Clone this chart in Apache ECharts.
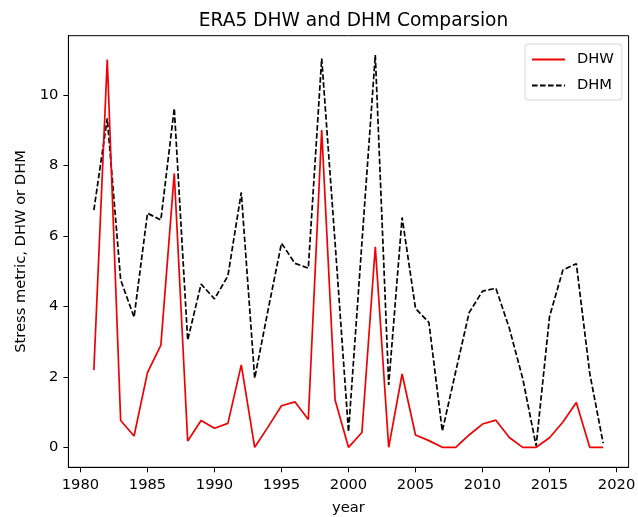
<!DOCTYPE html>
<html>
<head>
<meta charset="utf-8">
<script src="https://cdn.jsdelivr.net/npm/echarts@6/dist/echarts.min.js"></script>
<style>
  html, body { margin: 0; padding: 0; background: #fff; }
  #chart { width: 638px; height: 517px; }
</style>
</head>
<body>
<div id="chart"></div>
<script>
// Annual coral heat-stress metrics from ERA5, 1981-2019
const years = [
  1981, 1982, 1983, 1984, 1985, 1986, 1987, 1988, 1989, 1990,
  1991, 1992, 1993, 1994, 1995, 1996, 1997, 1998, 1999, 2000,
  2001, 2002, 2003, 2004, 2005, 2006, 2007, 2008, 2009, 2010,
  2011, 2012, 2013, 2014, 2015, 2016, 2017, 2018, 2019
];
// Degree Heating Weeks
const dhw = [
  2.19, 11.0, 0.76, 0.32, 2.12, 2.90, 7.77, 0.18, 0.76, 0.54,
  0.68, 2.34, 0.0, 0.58, 1.18, 1.29, 0.79, 9.0, 1.34, 0.0,
  0.42, 5.69, 0.0, 2.08, 0.35, 0.19, 0.0, 0.0, 0.35, 0.66,
  0.77, 0.28, 0.0, 0.0, 0.27, 0.72, 1.27, 0.0, 0.0
];
// Degree Heating Months
const dhm = [
  6.73, 9.33, 4.75, 3.69, 6.64, 6.45, 9.62, 3.04, 4.63, 4.21,
  4.86, 7.23, 1.96, 3.9, 5.79, 5.22, 5.08, 11.03, 5.8, 0.44,
  5.8, 11.13, 1.77, 6.52, 3.94, 3.54, 0.46, 2.15, 3.82, 4.43,
  4.51, 3.38, 1.95, 0.04, 3.71, 5.03, 5.21, 2.1, 0.12
];
const xTicks = [1980, 1985, 1990, 1995, 2000, 2005, 2010, 2015, 2020];
const yTicks = [0, 2, 4, 6, 8, 10];

const font = 'DejaVu Sans';
const tickSize = 14.7;
const red = '#f00000';

const chart = echarts.init(document.getElementById('chart'), null, { renderer: 'canvas' });
chart.setOption({
  animation: false,
  backgroundColor: '#fff',
  title: {
    text: 'ERA5 DHW and DHM Comparsion',
    left: 348.5,
    textAlign: 'center',
    top: 7,
    textStyle: { fontFamily: font, fontSize: 18.6, fontWeight: 'normal', color: '#000' }
  },
  legend: {
    orient: 'vertical',
    left: 525,
    top: 44,
    padding: [8, 8, 7, 6],
    itemGap: 11,
    itemWidth: 33,
    itemHeight: 14,
    backgroundColor: '#fff',
    borderColor: '#d6d6d6',
    borderWidth: 1,
    borderRadius: 3,
    itemStyle: { opacity: 0 },
    textStyle: { fontFamily: font, fontSize: tickSize, color: '#000', padding: [0, 0, 0, 7] },
    data: ['DHW', 'DHM']
  },
  grid: {
    left: 68.4, right: 9.4, top: 35.7, bottom: 49.7,
    containLabel: false,
    outerBoundsMode: 'none',
    show: true, borderColor: '#000', borderWidth: 1
  },
  xAxis: {
    type: 'value',
    min: 1979.1,
    max: 2020.9,
    name: 'year',
    nameLocation: 'middle',
    nameGap: 33,
    nameTextStyle: { fontFamily: font, fontSize: tickSize, color: '#000' },
    splitLine: { show: false },
    axisLine: { show: true, onZero: false, lineStyle: { color: '#000', width: 1 } },
    axisTick: { show: true, customValues: xTicks, length: 5, lineStyle: { color: '#000' } },
    axisLabel: {
      customValues: xTicks, fontFamily: font, fontSize: tickSize, color: '#000', margin: 10,
      formatter: v => String(v)
    }
  },
  yAxis: {
    type: 'value',
    min: -0.567,
    max: 11.677,
    name: 'Stress metric, DHW or DHM',
    nameLocation: 'middle',
    nameGap: 38,
    nameTextStyle: { fontFamily: font, fontSize: tickSize, color: '#000' },
    splitLine: { show: false },
    axisLine: { show: true, onZero: false, lineStyle: { color: '#000', width: 1 } },
    axisTick: { show: true, customValues: yTicks, length: 5, lineStyle: { color: '#000' } },
    axisLabel: {
      customValues: yTicks, fontFamily: font, fontSize: tickSize, color: '#000', margin: 10,
      formatter: v => String(v)
    }
  },
  series: [
    {
      name: 'DHW',
      type: 'line',
      data: years.map((y, i) => [y, dhw[i]]),
      symbol: 'none',
      lineStyle: { color: red, width: 1.7 },
      itemStyle: { color: red },
      z: 3
    },
    {
      name: 'DHM',
      type: 'line',
      data: years.map((y, i) => [y, dhm[i]]),
      symbol: 'none',
      lineStyle: { color: '#000', width: 1.7, type: [5.6, 2.4] },
      itemStyle: { color: '#000' },
      z: 2
    }
  ]
});
</script>
</body>
</html>
